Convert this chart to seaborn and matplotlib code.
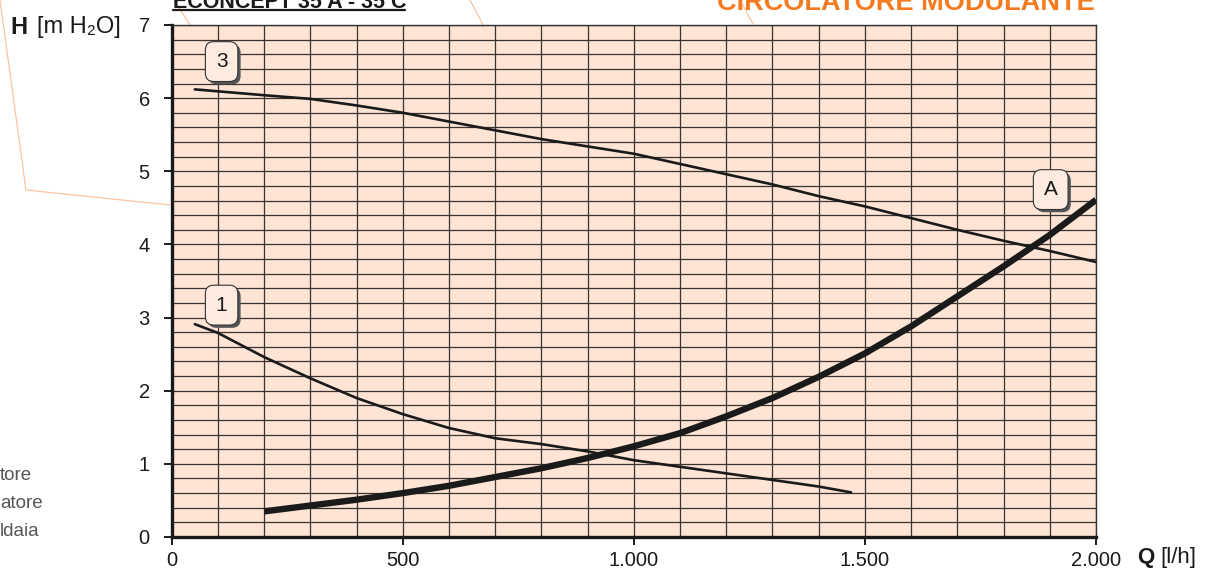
import numpy as np
import pandas as pd
import matplotlib
matplotlib.use("Agg")
import matplotlib.pyplot as plt
import matplotlib.patheffects as pe
import seaborn as sns
from matplotlib.lines import Line2D

# Curve data (Q in l/h, H in m H2O)
q_curve1 = [50, 100, 200, 300, 400, 500, 600, 700, 800, 900, 1000, 1100, 1200, 1300, 1400, 1470]
h_curve1 = [2.91, 2.79, 2.46, 2.17, 1.90, 1.68, 1.49, 1.35, 1.27, 1.17, 1.05, 0.96, 0.87, 0.78, 0.69, 0.61]

q_curve3 = [50, 200, 300, 400, 500, 600, 700, 800, 900, 1000, 1100, 1200, 1300, 1400, 1500,
            1600, 1700, 1800, 1900, 2000]
h_curve3 = [6.12, 6.04, 5.99, 5.90, 5.80, 5.68, 5.56, 5.44, 5.34, 5.24, 5.10, 4.96, 4.82, 4.66, 4.52,
            4.36, 4.20, 4.05, 3.91, 3.76]

q_curveA = [200, 300, 400, 500, 600, 700, 800, 900, 1000, 1100, 1200, 1300, 1400, 1500, 1600,
            1700, 1800, 1900, 2000]
h_curveA = [0.35, 0.43, 0.51, 0.60, 0.70, 0.82, 0.94, 1.08, 1.24, 1.42, 1.65, 1.90, 2.19, 2.51, 2.88,
            3.29, 3.70, 4.13, 4.61]

x_ticks = [0, 500, 1000, 1500, 2000]
x_tick_labels = ["0", "500", "1.000", "1.500", "2.000"]
y_ticks = [0, 1, 2, 3, 4, 5, 6, 7]

# curve labels: (text, Q, H)
curve_labels = [("3", 108, 6.50), ("1", 108, 3.17), ("A", 1902, 4.75)]

title_text = "ECONCEPT 35 A - 35 C"
subtitle_text = "CIRCOLATORE MODULANTE"
side_notes = ["tore", "atore", "ldaia"]

W, H = 1209, 571
PEACH = "#fde4d4"
ORANGE = "#f47b20"

sns.set_style("ticks")
plt.rcParams["font.family"] = ["Liberation Sans", "DejaVu Sans"]

fig = plt.figure(figsize=(W / 100, H / 100), dpi=100)
ax = fig.add_axes([171.7 / W, 1 - 537 / H, (1096 - 171.7) / W, (537 - 25) / H])
ax.set_facecolor(PEACH)

df1 = pd.DataFrame({"Q": q_curve1, "H": h_curve1})
df3 = pd.DataFrame({"Q": q_curve3, "H": h_curve3})
dfa = pd.DataFrame({"Q": q_curveA, "H": h_curveA})

sns.lineplot(data=df1, x="Q", y="H", ax=ax, color="#1a1a1a", lw=1.9, sort=False, zorder=4)
sns.lineplot(data=df3, x="Q", y="H", ax=ax, color="#1a1a1a", lw=1.9, sort=False, zorder=4)
sns.lineplot(data=dfa, x="Q", y="H", ax=ax, color="#1a1a1a", lw=4.6, sort=False, zorder=5,
             solid_capstyle="butt")

ax.set_xlim(0, 2000)
ax.set_ylim(0, 7)
ax.set_xticks(x_ticks)
ax.set_xticklabels(x_tick_labels)
ax.set_yticks(y_ticks)
ax.set_xticks(np.arange(0, 2001, 100), minor=True)
ax.set_yticks(np.arange(0, 7.01, 0.2), minor=True)
ax.grid(which="both", color="#3a3330", lw=0.9)
ax.set_axisbelow(True)
ax.tick_params(which="minor", length=0)
ax.tick_params(which="major", length=5.8, width=1.4, color="#1a1a1a", labelsize=14.5,
               labelcolor="#1a1a1a")
ax.tick_params(axis="y", pad=10)
ax.tick_params(axis="x", pad=4.5)
ax.set_xlabel("")
ax.set_ylabel("")
for side in ["left", "bottom"]:
    ax.spines[side].set_linewidth(2.4)
    ax.spines[side].set_color("#1a1a1a")
for side in ["top", "right"]:
    ax.spines[side].set_linewidth(1.0)
    ax.spines[side].set_color("#333333")

# numbered boxes with a small drop shadow
box_style = "round,pad=0.5,rounding_size=0.4"
for txt, q, h in curve_labels:
    t = ax.text(q, h, txt, ha="center", va="center", fontsize=15, color="#1a1a1a", zorder=7,
                bbox=dict(boxstyle=box_style, fc="#fdebe0", ec="#333333", lw=0.8))
    t.get_bbox_patch().set_path_effects([
        pe.SimplePatchShadow(offset=(2, -2), shadow_rgbFace="#555555", alpha=1.0),
        pe.Normal(),
    ])

# axis labels
fig.text(10 / W, 1 - 27 / H, "H", fontsize=17, fontweight="bold", va="center", color="#1a1a1a")
fig.text(37 / W, 1 - 27 / H, "[m H\u2082O]", fontsize=17, va="center", color="#1a1a1a")
fig.text(1137 / W, 1 - 558 / H, "Q", fontsize=16, fontweight="bold", va="center", color="#1a1a1a")
fig.text(1160 / W, 1 - 558 / H, "[l/h]", fontsize=16, va="center", color="#1a1a1a")

# clipped titles at the top edge
fig.text(173 / W, 1 - 7.5 / H, title_text, fontsize=15.5, fontweight="bold", va="baseline",
         ha="left", color="#1a1a1a")
fig.add_artist(Line2D([173 / W, 405 / W], [1 - 9.5 / H, 1 - 9.5 / H], color="#1a1a1a", lw=1.6))
fig.text(1095 / W, 1 - 10 / H, subtitle_text, fontsize=19.5, fontweight="bold", va="baseline",
         ha="right", color=ORANGE)

# left side notes, clipped by the figure edge
for i, note in enumerate(side_notes):
    fig.text(0, 1 - (476 + 27.5 * i) / H, note, fontsize=13.5, va="center", ha="left",
             color="#555555")

# thin orange leader lines
leaders = [
    [(0, 0), (26, 190), (170, 205)],
    [(174, 0), (190, 25)],
    [(470, 0), (483, 25)],
    [(740, 0), (753, 24)],
]
for pts in leaders:
    xs = [p[0] / W for p in pts]
    ys = [1 - p[1] / H for p in pts]
    fig.add_artist(Line2D(xs, ys, color="#f9c4a0", lw=0.9, zorder=0))

fig.savefig("out.png", dpi=100)
